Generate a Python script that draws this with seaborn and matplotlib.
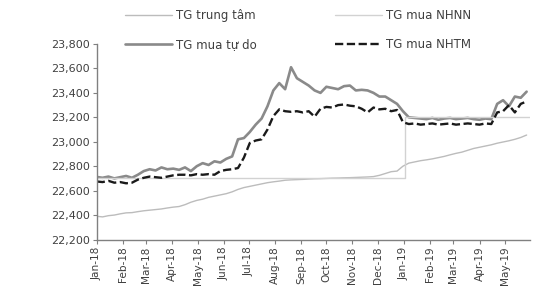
import pandas as pd
import matplotlib
matplotlib.use("Agg")
import matplotlib.pyplot as plt
import matplotlib.ticker as mticker
import seaborn as sns

# weekly observations, Jan 2018 - end of May 2019
dates = pd.date_range("2018-01-01", periods=74, freq="7D")

month_ticks = pd.date_range("2018-01-01", periods=17, freq="MS")
month_labels = ["Jan-18", "Feb-18", "Mar-18", "Apr-18", "May-18", "Jun-18", "Jul-18",
                "Aug-18", "Sep-18", "Oct-18", "Nov-18", "Dec-18", "Jan-19", "Feb-19",
                "Mar-19", "Apr-19", "May-19"]

tg_trung_tam = [22390, 22385, 22395, 22400, 22410, 22418, 22420, 22428, 22435, 22440,
                22445, 22450, 22458, 22465, 22470, 22485, 22505, 22520, 22530, 22545,
                22555, 22565, 22575, 22590, 22610, 22625, 22635, 22645, 22655, 22665,
                22672, 22678, 22685, 22688, 22690, 22692, 22695, 22697, 22698, 22700,
                22702, 22703, 22705, 22706, 22708, 22710, 22712, 22715, 22725, 22740,
                22755, 22760, 22800, 22825, 22835, 22845, 22852, 22860, 22870, 22880,
                22893, 22905, 22915, 22930, 22945, 22955, 22965, 22975, 22988, 22998,
                23008, 23020, 23035, 23055]

tg_tu_do = [22712, 22705, 22715, 22700, 22710, 22720, 22705, 22730, 22760, 22775,
            22765, 22790, 22775, 22780, 22770, 22790, 22760, 22800, 22825, 22810,
            22840, 22830, 22860, 22880, 23020, 23030, 23080, 23140, 23190, 23290,
            23420, 23480, 23430, 23610, 23520, 23490, 23460, 23420, 23400, 23450,
            23440, 23430, 23455, 23460, 23420, 23425, 23420, 23400, 23370, 23370,
            23340, 23310, 23250, 23200, 23195, 23190, 23185, 23195, 23180, 23190,
            23195, 23185, 23190, 23195, 23185, 23180, 23190, 23185, 23310, 23340,
            23290, 23370, 23360, 23410]

tg_nhtm = [22675, 22670, 22680, 22665, 22670, 22660, 22665, 22690, 22705, 22715,
           22710, 22705, 22715, 22725, 22730, 22730, 22725, 22735, 22730, 22735,
           22730, 22760, 22770, 22775, 22785, 22870, 22990, 23010, 23020, 23100,
           23210, 23265, 23250, 23245, 23250, 23240, 23250, 23205, 23270, 23285,
           23280, 23300, 23305, 23295, 23290, 23270, 23240, 23280, 23265, 23270,
           23250, 23260, 23160, 23145, 23150, 23140, 23145, 23150, 23140, 23145,
           23150, 23140, 23145, 23150, 23145, 23140, 23150, 23145, 23240, 23250,
           23300, 23240, 23310, 23330]

# SBV buying rate: step change at the start of 2019
nhnn_dates = pd.to_datetime(["2018-01-01", "2019-01-02", "2019-05-31"])
tg_nhnn = [22700, 23200, 23200]

sns.set_style("white")
plt.rcParams["font.family"] = ["DejaVu Sans"]

fig = plt.figure(figsize=(5.34, 2.88), dpi=100)
ax = fig.add_axes([0.181, 0.1684, 0.8115, 0.6788])

sns.lineplot(x=dates, y=tg_trung_tam, ax=ax, color="#bcbcbc", lw=1.0, label="TG trung tâm")
sns.lineplot(x=dates, y=tg_tu_do, ax=ax, color="#8a8a8a", lw=1.9, label="TG mua tự do")
ax.plot(nhnn_dates, tg_nhnn, color="#d2d2d2", lw=1.0, drawstyle="steps-post", label="TG mua NHNN")
sns.lineplot(x=dates, y=tg_nhtm, ax=ax, color="#1a1a1a", lw=1.7, label="TG mua NHTM",
             linestyle=(0, (3.5, 1.5)))

ax.set_ylim(22200, 23800)
ax.yaxis.set_major_locator(mticker.MultipleLocator(200))
ax.yaxis.set_major_formatter(mticker.FuncFormatter(lambda v, p: f"{int(v):,}"))
ax.set_xticks(month_ticks)
ax.set_xticklabels(month_labels, rotation=90)
ax.set_xlim(pd.Timestamp("2018-01-01"), pd.Timestamp("2019-05-31"))

ax.tick_params(axis="both", labelsize=8, labelcolor="#404040", color="#808080",
               length=3, width=0.8, direction="out", pad=2, bottom=True, left=True)
ax.tick_params(axis="x", labelsize=7.6)
ax.set_xlabel("")
ax.set_ylabel("")

for side in ["top", "right"]:
    ax.spines[side].set_visible(False)
for side in ["left", "bottom"]:
    ax.spines[side].set_color("#808080")
    ax.spines[side].set_linewidth(1.0)

h, l = ax.get_legend_handles_labels()
order = [l.index(n) for n in ["TG trung tâm", "TG mua tự do", "TG mua NHNN", "TG mua NHTM"]]
ax.legend([h[i] for i in order], [l[i] for i in order], ncol=2, frameon=False,
          loc="upper left", bbox_to_anchor=(125 / 534, 1 - 9 / 288),
          bbox_transform=fig.transFigure, fontsize=8.5, handlelength=4.0,
          handletextpad=0.35, columnspacing=6.6, labelspacing=1.35, borderpad=0,
          borderaxespad=0, labelcolor="#404040")

fig.savefig("out.png", dpi=100)
